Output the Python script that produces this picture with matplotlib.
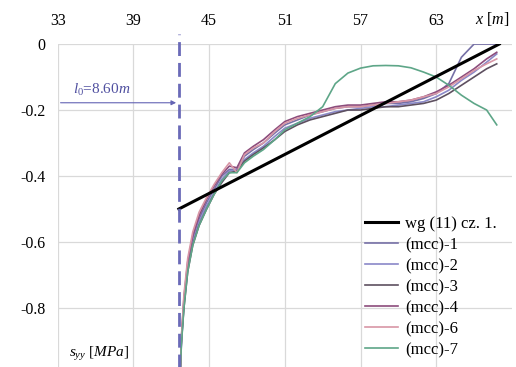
import numpy as np
import matplotlib.pyplot as plt

plt.rcParams['font.family'] = ['Liberation Serif', 'DejaVu Serif']
plt.rcParams['mathtext.fontset'] = 'custom'
plt.rcParams['mathtext.it'] = 'Liberation Serif:italic'
plt.rcParams['mathtext.rm'] = 'Liberation Serif'

# shared positions along the beam (m)
x = [42.7, 42.8, 43.0, 43.3, 43.7, 44.2, 44.8, 45.4, 46.0, 46.6, 47.2, 47.8,
     48.5, 49.3, 50.2, 51.0, 52.0, 53.0, 54.0, 55.0, 56.0, 57.0, 58.0, 59.0,
     60.0, 61.0, 62.0, 63.0, 64.0, 65.0, 66.0, 67.0, 67.8]

mcc1 = [-1.00, -0.90, -0.78, -0.67, -0.59, -0.53, -0.48, -0.44, -0.40, -0.38, -0.38, -0.34,
        -0.32, -0.30, -0.27, -0.245, -0.23, -0.215, -0.205, -0.195, -0.19, -0.19, -0.185, -0.18,
        -0.18, -0.175, -0.165, -0.15, -0.12, -0.04, 0.0, 0.0, 0.0]
mcc2 = [-1.00, -0.91, -0.79, -0.68, -0.60, -0.54, -0.49, -0.45, -0.41, -0.385, -0.38, -0.35,
        -0.33, -0.31, -0.28, -0.255, -0.24, -0.225, -0.215, -0.205, -0.20, -0.195, -0.19, -0.19,
        -0.185, -0.18, -0.175, -0.16, -0.14, -0.11, -0.085, -0.055, -0.03]
mcc3 = [-1.00, -0.90, -0.80, -0.69, -0.61, -0.55, -0.50, -0.455, -0.42, -0.39, -0.385, -0.355,
        -0.335, -0.315, -0.29, -0.265, -0.245, -0.23, -0.22, -0.21, -0.20, -0.20, -0.195, -0.19,
        -0.19, -0.185, -0.18, -0.17, -0.15, -0.125, -0.10, -0.075, -0.06]
mcc4 = [-1.00, -0.89, -0.77, -0.66, -0.58, -0.52, -0.47, -0.43, -0.395, -0.37, -0.375, -0.33,
        -0.31, -0.29, -0.26, -0.235, -0.22, -0.21, -0.20, -0.19, -0.185, -0.185, -0.18, -0.175,
        -0.175, -0.17, -0.16, -0.145, -0.125, -0.10, -0.075, -0.045, -0.025]
mcc6 = [-1.00, -0.89, -0.76, -0.65, -0.57, -0.51, -0.465, -0.425, -0.39, -0.36, -0.39, -0.335,
        -0.315, -0.30, -0.265, -0.24, -0.225, -0.215, -0.205, -0.195, -0.19, -0.19, -0.185, -0.18,
        -0.175, -0.17, -0.16, -0.15, -0.13, -0.105, -0.08, -0.06, -0.045]
mcc7 = [-1.00, -0.91, -0.80, -0.69, -0.61, -0.55, -0.50, -0.455, -0.415, -0.39, -0.39, -0.36,
        -0.34, -0.32, -0.29, -0.26, -0.24, -0.22, -0.19, -0.12, -0.088, -0.073, -0.066, -0.065,
        -0.066, -0.072, -0.085, -0.10, -0.125, -0.155, -0.18, -0.20, -0.245]

wg_x = [42.6, 68.0]
wg_y = [-0.50, 0.0]

l0_x = 42.6

series = [
    ('(mcc)-1', mcc1, '#7670a6'),
    ('(mcc)-2', mcc2, '#8a88c8'),
    ('(mcc)-3', mcc3, '#5e5060'),
    ('(mcc)-4', mcc4, '#8c4c7c'),
    ('(mcc)-6', mcc6, '#d896a6'),
    ('(mcc)-7', mcc7, '#5ea688'),
]

fig = plt.figure(figsize=(5.16, 3.67), dpi=100)
ax = fig.add_axes([0.112, 0.0, 0.88, 0.88])

ax.plot(wg_x, wg_y, color='black', lw=2.2, label='wg (11) cz. 1.', zorder=5)
for name, ys, c in series:
    ax.plot(x, ys, color=c, lw=1.2, label=name)

ax.plot([l0_x, l0_x], [-1.0, 0.03], color='#6a6ab8', lw=2, ls=(0, (5, 2.5)),
        clip_on=False, zorder=6)
ax.annotate('', xy=(l0_x, -0.178), xytext=(33, -0.178),
            arrowprops=dict(arrowstyle='-|>', color='#6464b4', lw=0.8,
                            mutation_scale=7))
ax.text(34.2, -0.165, r'$l_0$=8.60$m$', color='#5050a0', fontsize=11,
        va='bottom')

ax.set_xlim(33, 69)
ax.set_ylim(-0.979, 0)
ax.set_xticks([33, 39, 45, 51, 57, 63])
ax.set_yticks([0, -0.2, -0.4, -0.6, -0.8])
ax.set_yticklabels(['0', '-0.2', '-0.4', '-0.6', '-0.8'])
ax.xaxis.tick_top()
ax.tick_params(length=0, labelsize=11.5, pad=11)
ax.tick_params(axis='y', pad=9)
for s in ax.spines.values():
    s.set_visible(False)
ax.grid(True, color='#d9d9d9', lw=0.9)
ax.set_axisbelow(True)

ax.text(67.4, 0.05, r'$x$ [$m$]', fontsize=11.5, ha='center', va='bottom')
ax.text(33.9, -0.94, r'$s_{yy}$ [$MPa$]', fontsize=11, ha='left', va='center')

ax.legend(loc='upper left', bbox_to_anchor=(0.676, 0.467), frameon=False,
          fontsize=12, handlelength=2.0, labelspacing=0.3, handletextpad=0.4,
          borderaxespad=0, borderpad=0)

fig.savefig('out.png', dpi=100)
